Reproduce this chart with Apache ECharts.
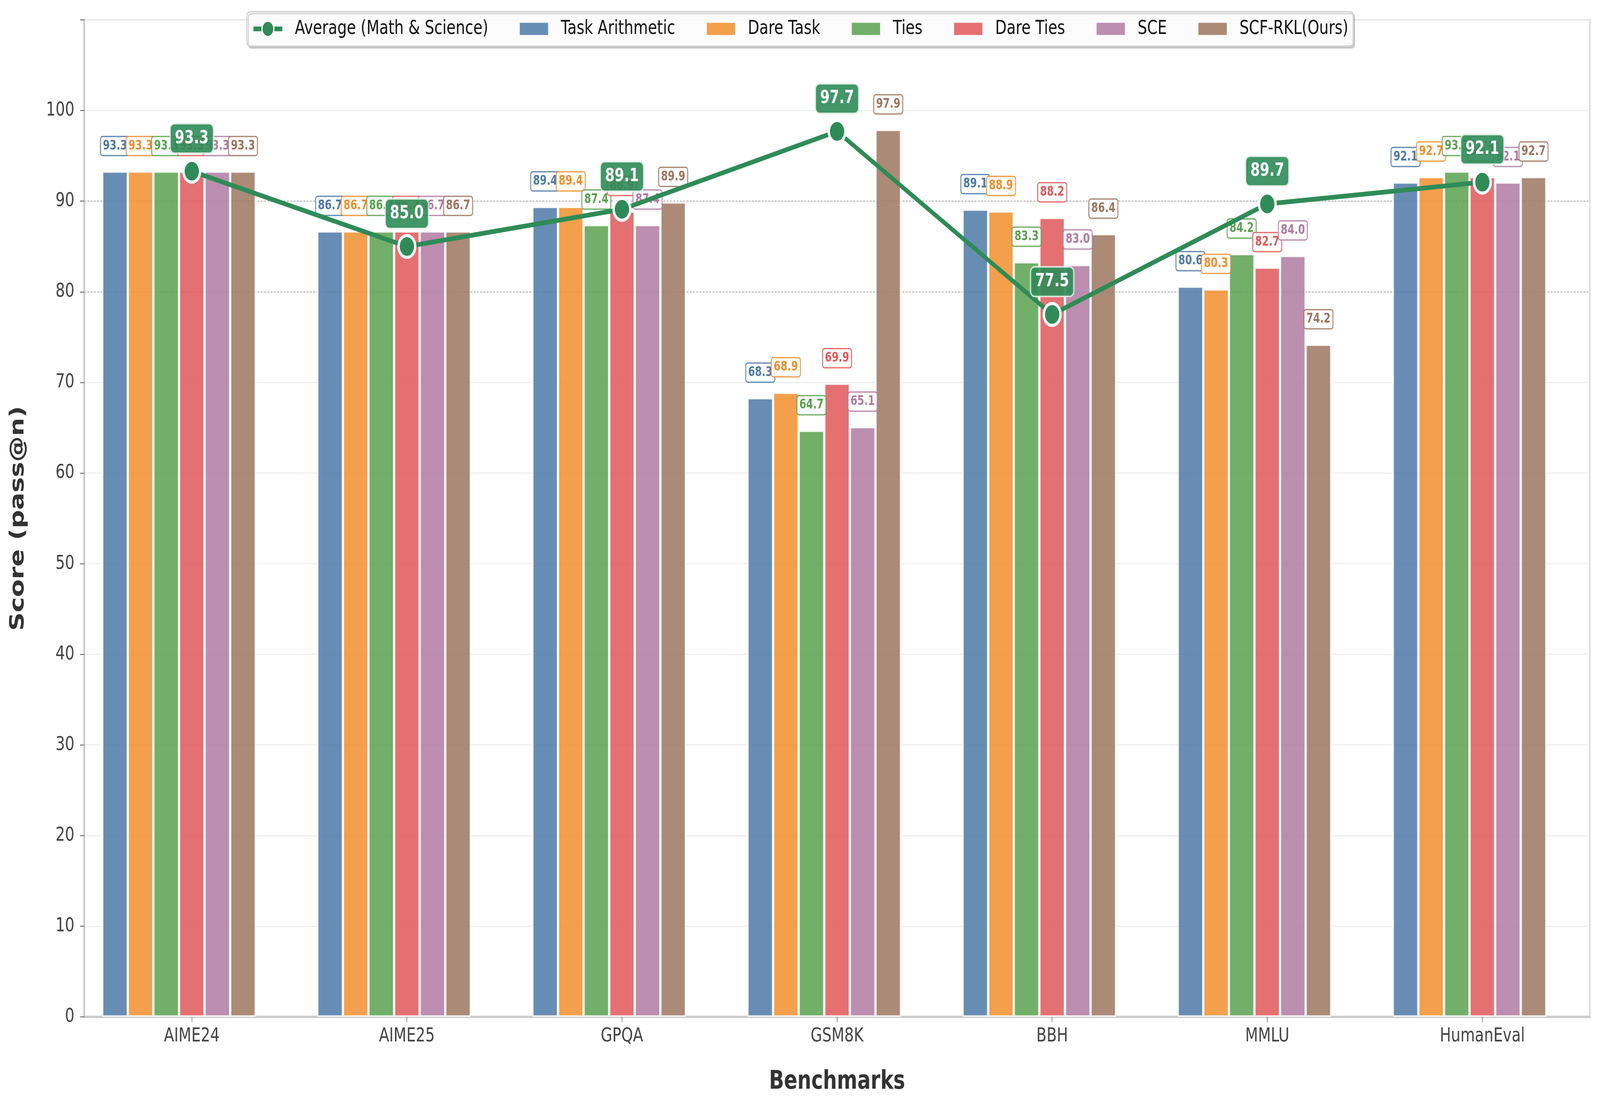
<!DOCTYPE html>
<html><head><meta charset="utf-8">
<script src="https://cdn.jsdelivr.net/npm/echarts@6/dist/echarts.min.js"></script>
<style>html,body{margin:0;padding:0;background:#fff;overflow:hidden}#c{width:5376px;height:2840px;transform-origin:0 0}</style>
</head><body><div id="c"></div>
<script>
// ---- data ----
const categories = ['AIME24', 'AIME25', 'GPQA', 'GSM8K', 'BBH', 'MMLU', 'HumanEval'];
const taskArithmetic = [93.3, 86.7, 89.4, 68.3, 89.1, 80.6, 92.1];
const dareTask       = [93.3, 86.7, 89.4, 68.9, 88.9, 80.3, 92.7];
const ties           = [93.3, 86.7, 87.4, 64.7, 83.3, 84.2, 93.3];
const dareTies       = [93.3, 86.7, 88.9, 69.9, 88.2, 82.7, 92.7];
const sce            = [93.3, 86.7, 87.4, 65.1, 83.0, 84.0, 92.1];
const scfRkl         = [93.3, 86.7, 89.9, 97.9, 86.4, 74.2, 92.7];
const avgMathSci     = [93.3, 85.0, 89.1, 97.7, 77.5, 89.7, 92.1];
const refLines = [80, 90];
const barNames = ['Task Arithmetic', 'Dare Task', 'Ties', 'Dare Ties', 'SCE', 'SCF-RKL(Ours)'];
const avgName = 'Average (Math & Science)';

// fit the 5376x2840 design into the actual viewport
const sx = window.innerWidth / 5376, sy = window.innerHeight / 2840;
if (Math.abs(sx - 1) > 0.01 || Math.abs(sy - 1) > 0.01) {
  document.getElementById('c').style.transform = 'scale(' + sx + ',' + sy + ')';
}

// ---- styling ----
const FONT = 'DejaVu Sans';
const barColors = ['#4E79A7', '#F28E2B', '#59A14F', '#E15759', '#B07AA1', '#9C755F'];
const barData = [taskArithmetic, dareTask, ties, dareTies, sce, scfRkl];
function rgba(hex, a) {
  const n = parseInt(hex.slice(1), 16);
  return 'rgba(' + ((n >> 16) & 255) + ',' + ((n >> 8) & 255) + ',' + (n & 255) + ',' + a + ')';
}
const BW = 86;
const fmt = p => Number(p.value).toFixed(1);
const barIcon = 'path://M0,0 M97,50 M0,8.5 L97,8.5 L97,41.5 L0,41.5 Z';

const series = barNames.map((n, i) => ({
  name: n, type: 'bar', data: barData[i], barWidth: BW, barGap: '0%',
  itemStyle: { color: rgba(barColors[i], 0.85), borderColor: 'rgba(255,255,255,0.85)', borderWidth: 4 },
  label: {
    show: true, position: 'top', distance: 41, formatter: fmt,
    fontFamily: FONT, fontSize: 33, fontWeight: 'bold', color: barColors[i],
    backgroundColor: 'rgba(255,255,255,0.85)', borderColor: barColors[i], borderWidth: 2.5,
    borderRadius: 6, padding: [7, 7]
  },
  emphasis: { disabled: true },
  z: 2
}));
series[0].markLine = {
  silent: true, symbol: 'none', z: 1, label: { show: false },
  lineStyle: { color: '#c4c4c4', width: 4, type: [5, 6] },
  data: refLines.map(v => ({ yAxis: v }))
};
// empty spacer: keeps the 4th bar of each group on the category tick, as in the original
series.push({ name: '_spacer', type: 'bar', data: [], barWidth: BW, barGap: '0%', silent: true });
series.push({
  name: avgName, type: 'line', data: avgMathSci, z: 10,
  symbol: 'circle', symbolSize: 56,
  lineStyle: { color: '#2E8B57', width: 12 },
  itemStyle: { color: '#2E8B57', borderColor: '#ffffff', borderWidth: 8 },
  label: {
    show: true, position: 'top', distance: 16, formatter: fmt,
    fontFamily: FONT, fontSize: 46, fontWeight: 'bold', color: '#ffffff',
    backgroundColor: 'rgba(46,139,87,0.9)', borderColor: 'rgba(222,237,228,0.9)', borderWidth: 4,
    borderRadius: 12, padding: [13, 14]
  },
  emphasis: { disabled: true }
});

const legendData = [{ name: avgName, lineStyle: { width: 12 }, itemStyle: { borderWidth: 4 } }]
  .concat(barNames.map(n => ({ name: n, icon: barIcon })));

const chart = echarts.init(document.getElementById('c'), null, { renderer: 'canvas', devicePixelRatio: 1, width: 5376, height: 2840 });
chart.setOption({
  animation: false,
  backgroundColor: '#ffffff',
  textStyle: { fontFamily: FONT },
  legend: {
    data: legendData,
    top: 30, left: 'center',
    itemWidth: 97, itemHeight: 50, itemGap: 104,
    padding: [18, 16],
    backgroundColor: 'rgba(255,255,255,0.92)',
    borderColor: '#cccccc', borderWidth: 3, borderRadius: 10,
    shadowColor: 'rgba(0,0,0,0.18)', shadowBlur: 0, shadowOffsetX: 5, shadowOffsetY: 5,
    textStyle: { fontFamily: FONT, fontSize: 50, color: '#111', padding: [0, 0, 0, 37] }
  },
  grid: {
    left: 283, right: 34, top: 51, bottom: 236, containLabel: false,
    show: true, borderColor: '#cccccc', borderWidth: 3, backgroundColor: 'transparent'
  },
  xAxis: {
    type: 'category', data: categories, boundaryGap: true,
    axisLine: { show: true, lineStyle: { color: '#cccccc', width: 6 } },
    axisTick: { show: true, alignWithLabel: true, length: 14, lineStyle: { color: '#777', width: 2 } },
    axisLabel: { fontFamily: FONT, fontSize: 50, color: '#444', margin: 25, interval: 0 },
    splitLine: { show: false },
    name: 'Benchmarks', nameLocation: 'middle', nameGap: 134,
    nameTextStyle: { fontFamily: FONT, fontSize: 66, fontWeight: 'bold', color: '#333' }
  },
  yAxis: {
    type: 'value', min: 0, max: 110, interval: 10,
    axisLine: { show: true, lineStyle: { color: '#cccccc', width: 6 } },
    axisTick: { show: true, length: 14, lineStyle: { color: '#555', width: 2 } },
    axisLabel: { fontFamily: FONT, fontSize: 50, color: '#444', margin: 33, formatter: v => (v > 100 ? '' : String(v)) },
    splitLine: { show: true, lineStyle: { color: '#ececec', width: 2.5 } },
    name: 'Score (pass@n)', nameLocation: 'middle', nameGap: 188, nameRotate: 90,
    nameTextStyle: { fontFamily: FONT, fontSize: 66, fontWeight: 'bold', color: '#333' }
  },
  series: series
});
</script>
</body></html>
